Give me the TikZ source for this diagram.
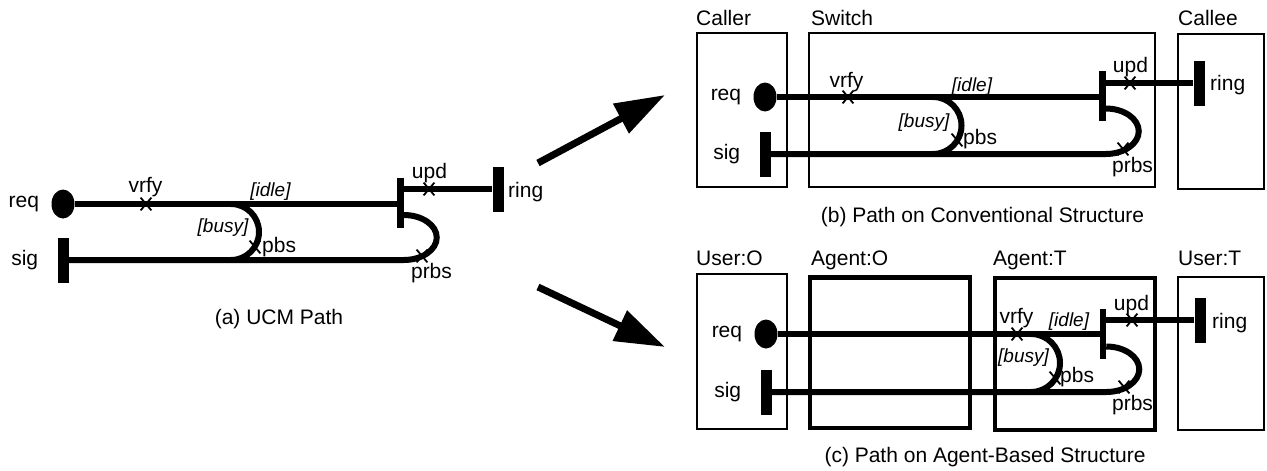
\documentclass[tikz,border=0pt]{standalone}
\usepackage{fontspec}
\setmainfont{Liberation Sans}
\usetikzlibrary{arrows.meta,positioning,shapes.geometric,shapes.misc}

\begin{document}
\begin{tikzpicture}[x=1pt,y=-1pt,>={Triangle[length=50pt,width=32pt]},
  lbl/.style={font=\fontsize{21}{25}\selectfont,inner sep=0pt},
  cond/.style={font=\fontsize{19}{23}\selectfont\itshape,inner sep=0pt},
  ucm/.style={line width=6pt},
  startpt/.style={ellipse,fill,inner sep=0pt,minimum width=23pt,minimum height=29pt},
  endbar/.style={rectangle,fill,inner sep=0pt,minimum width=11pt,minimum height=45pt},
  forkbar/.style={rectangle,fill,inner sep=0pt,minimum width=6.5pt,minimum height=50pt},
  resp/.style={cross out,draw,line width=1.8pt,inner sep=0pt,minimum width=9pt,minimum height=11pt},
  thinbox/.style={draw,line width=1.5pt},
  agentbox/.style={draw,line width=4.5pt},
  bigarrow/.style={line width=7pt,->}]
\useasboundingbox (0,0) rectangle (1267,471);

\begin{scope}[shift={(63,204)}]
\node[startpt] (a-start) at (0,0) {};
\node[endbar] (a-sig) at (0,56) {};
\node[forkbar] (a-fork) at (337.5,-1) {};
\node[endbar] (a-ring) at (435,-15) {};
\coordinate (a-or) at (168,0);
\coordinate (a-join) at (340.75,11);

\draw[ucm] (a-start.east) -- (a-fork.west |- a-start);
\draw[ucm] (a-fork.east |- a-ring) -- (a-ring.west);
\draw[ucm] (a-or) arc[start angle=90,end angle=-90,radius=28pt];
\draw[ucm] (a-join) arc[start angle=90,end angle=-90,x radius=33pt,y radius=22.5pt] -- (a-sig.east);

\node[resp] (a-vrfy) at (83,0) {};
\node[resp] (a-upd) at (366,-15) {};
\node[resp] (a-pbs) at (192,43) {};
\node[resp] (a-prbs) at (359,52) {};

\node[lbl,left=12pt of a-start] (a-reqlbl) {req};
\node[lbl,left=19pt of a-sig] (a-siglbl) {sig};
\node[lbl] (a-vrfylbl) at (82.5,-17) {vrfy};
\node[cond] (a-idle) at (207.5,-12) {[idle]};
\node[cond] (a-busy) at (160,24) {[busy]};
\node[lbl,anchor=west] (a-pbslbl) at (199,43) {pbs};
\node[lbl] (a-updlbl) at (366.5,-31) {upd};
\node[lbl,anchor=west] (a-ringlbl) at (445,-12) {ring};
\node[lbl] (a-prbslbl) at (368.5,69) {prbs};
\end{scope}
\node[lbl] (capa) at (279,319) {(a) UCM Path};

\draw[thinbox] (697,33) rectangle (787,187);
\draw[thinbox] (809,33) rectangle (1155,187);
\draw[thinbox] (1178,34) rectangle (1264,189);
\node[lbl,anchor=base west] (caller) at (696,25) {Caller};
\node[lbl,anchor=base west] (switch) at (811,25) {Switch};
\node[lbl,anchor=base west] (callee) at (1178,25) {Callee};

\begin{scope}[shift={(765,97)}]
\node[startpt] (b-start) at (0,0) {};
\node[endbar] (b-sig) at (0,57) {};
\node[forkbar] (b-fork) at (337.5,-1) {};
\node[endbar] (b-ring) at (434,-14) {};
\coordinate (b-or) at (168,0);
\coordinate (b-join) at (340.75,11.5);

\draw[ucm] (b-start.east) -- (b-fork.west |- b-start);
\draw[ucm] (b-fork.east |- b-ring) -- (b-ring.west);
\draw[ucm] (b-or) arc[start angle=90,end angle=-90,radius=28.5pt];
\draw[ucm] (b-join) arc[start angle=90,end angle=-90,x radius=33pt,y radius=22.75pt] -- (b-sig.east);

\node[resp] (b-vrfy) at (83,0) {};
\node[resp] (b-upd) at (365,-14) {};
\node[resp] (b-pbs) at (192,43) {};
\node[resp] (b-prbs) at (358,52) {};

\node[lbl,left=12pt of b-start] (b-reqlbl) {req};
\node[lbl,left=19pt of b-sig] (b-siglbl) {sig};
\node[lbl] (b-vrfylbl) at (81.5,-15) {vrfy};
\node[cond] (b-idle) at (207,-10) {[idle]};
\node[cond] (b-busy) at (159,26) {[busy]};
\node[lbl,anchor=west] (b-pbslbl) at (198,42) {pbs};
\node[lbl] (b-updlbl) at (365.5,-30) {upd};
\node[lbl,anchor=west] (b-ringlbl) at (445,-12) {ring};
\node[lbl] (b-prbslbl) at (367.5,70) {prbs};
\end{scope}
\node[lbl] (capb) at (982.5,217) {(b) Path on Conventional Structure};

\draw[thinbox] (697,274) rectangle (787,429);
\draw[agentbox] (810,277.5) rectangle (970,428);
\draw[agentbox] (995,278) rectangle (1155,430);
\draw[thinbox] (1178,277) rectangle (1264,430);
\node[lbl,anchor=base west] (usero) at (696,265) {User:O};
\node[lbl,anchor=base west] (agento) at (811,265) {Agent:O};
\node[lbl,anchor=base west] (agentt) at (993,265) {Agent:T};
\node[lbl,anchor=base west] (usert) at (1178,265) {User:T};

\begin{scope}[shift={(766,334)}]
\node[startpt] (c-start) at (0,0) {};
\node[endbar] (c-sig) at (0,58) {};
\node[forkbar] (c-fork) at (337,0) {};
\node[endbar] (c-ring) at (434,-14) {};
\coordinate (c-or) at (265,0);
\coordinate (c-join) at (340.25,12.5);

\draw[ucm] (c-start.east) -- (c-fork.west |- c-start);
\draw[ucm] (c-fork.east |- c-ring) -- (c-ring.west);
\draw[ucm] (c-or) arc[start angle=90,end angle=-90,radius=29pt];
\draw[ucm] (c-join) arc[start angle=90,end angle=-90,x radius=33pt,y radius=22.75pt] -- (c-sig.east);

\node[resp] (c-vrfy) at (251,0) {};
\node[resp] (c-upd) at (366,-14) {};
\node[resp] (c-pbs) at (289,44) {};
\node[resp] (c-prbs) at (358,53) {};

\node[lbl,left=12pt of c-start] (c-reqlbl) {req};
\node[lbl,left=19pt of c-sig] (c-siglbl) {sig};
\node[lbl] (c-vrfylbl) at (250.5,-16) {vrfy};
\node[cond] (c-idle) at (303,-12) {[idle]};
\node[cond] (c-busy) at (257.5,24) {[busy]};
\node[lbl,anchor=west] (c-pbslbl) at (294,43) {pbs};
\node[lbl] (c-updlbl) at (365.5,-29) {upd};
\node[lbl,anchor=west] (c-ringlbl) at (446,-11) {ring};
\node[lbl] (c-prbslbl) at (366.5,71) {prbs};
\end{scope}
\node[lbl] (capc) at (985,457) {(c) Path on Agent-Based Structure};

\coordinate (up-from) at (538,163);
\coordinate (up-to) at (665,95);
\coordinate (down-from) at (538,287);
\coordinate (down-to) at (665,347);
\draw[bigarrow] (up-from) -- (up-to);
\draw[bigarrow] (down-from) -- (down-to);
\end{tikzpicture}
\end{document}
